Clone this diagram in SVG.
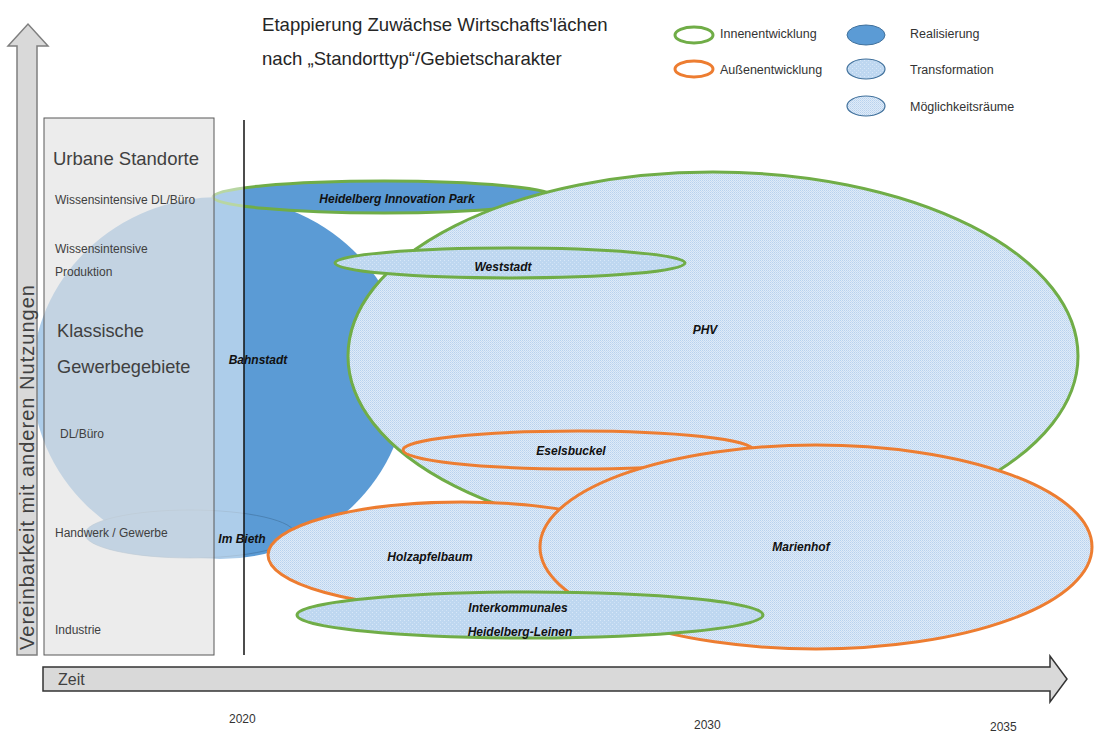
<svg xmlns="http://www.w3.org/2000/svg" width="1096" height="735" viewBox="0 0 1096 735">
<defs>
<pattern id="moeg" width="2" height="2" patternUnits="userSpaceOnUse">
<rect width="2" height="2" fill="#dfebf8"/>
<rect width="1" height="1" fill="#b8d2ee"/>
<rect x="1" y="1" width="1" height="1" fill="#c6dbf2"/>
</pattern>
<pattern id="trans" width="4" height="4" patternUnits="userSpaceOnUse">
<rect width="4" height="4" fill="#bed7f0"/>
<rect width="1" height="1" fill="#d9e8f8"/>
<rect x="2" y="2" width="1" height="1" fill="#d0e2f5"/>
</pattern>
<style>
.lbl{font-family:"Liberation Sans",Arial,sans-serif;font-size:12px;font-weight:bold;font-style:italic;fill:#111;text-anchor:middle}
.ax{font-family:"Liberation Sans",Arial,sans-serif;fill:#404040}
.leg{font-family:"Liberation Sans",Arial,sans-serif;font-size:12.5px;fill:#333}
.inn{stroke:#70ad47;stroke-width:3}
.aus{stroke:#ed7d31;stroke-width:3}
.real{fill:#5b9bd5}
.moeg{fill:url(#moeg)}
.trans{fill:url(#trans)}
</style>
</defs>

<g id="title" font-family="Liberation Sans, Arial, sans-serif" font-size="18.6" fill="#262626">
<text x="262" y="31">Etappierung Zuwächse Wirtschafts'lächen</text>
<text x="262" y="65">nach „Standorttyp“/Gebietscharakter</text>
</g>

<g id="legend">
<ellipse cx="694" cy="35" rx="19" ry="8" fill="#fff" class="inn" stroke-width="2"/>
<ellipse cx="694" cy="69" rx="19" ry="8" fill="#fff" class="aus" stroke-width="2"/>
<ellipse cx="866" cy="35" rx="19" ry="10" class="real" stroke="#41719c" stroke-width="1"/>
<ellipse cx="866" cy="69" rx="19" ry="10" class="trans" stroke="#41719c" stroke-width="1.2"/>
<ellipse cx="866" cy="106" rx="19" ry="10" class="moeg" stroke="#41719c" stroke-width="1.2"/>
<text class="leg" x="720" y="38">Innenentwicklung</text>
<text class="leg" x="720" y="74">Außenentwicklung</text>
<text class="leg" x="910" y="38">Realisierung</text>
<text class="leg" x="910" y="74">Transformation</text>
<text class="leg" x="910" y="111">Möglichkeitsräume</text>
</g>

<g id="bahnstadt">
<ellipse cx="220" cy="378" rx="188" ry="181" class="real"/>
</g>
<g id="im-bieth">
<ellipse cx="190" cy="534" rx="105" ry="24" fill="#5b9bd5" stroke="#41719c" stroke-opacity="0.6" stroke-width="1"/>
</g>
<g id="heidelberg-innovation-park">
<ellipse cx="384" cy="197" rx="171" ry="16" class="real inn"/>
</g>

<rect id="fade" x="0" y="110" width="244" height="550" fill="#fff" fill-opacity="0.5"/>

<g id="axis-box">
<rect x="44" y="118" width="170" height="537" fill="#d9d9d9" fill-opacity="0.5" stroke="#595959" stroke-width="1"/>
<text class="ax" x="53" y="165" font-size="18.5" fill="#262626">Urbane Standorte</text>
<text class="ax" x="55" y="204" font-size="12">Wissensintensive DL/Büro</text>
<text class="ax" x="55" y="253" font-size="12">Wissensintensive</text>
<text class="ax" x="55" y="276" font-size="12">Produktion</text>
<text class="ax" x="57" y="337" font-size="18.2" fill="#262626">Klassische</text>
<text class="ax" x="57" y="373" font-size="18.2" fill="#262626">Gewerbegebiete</text>
<text class="ax" x="60" y="438" font-size="12">DL/Büro</text>
<text class="ax" x="55" y="537" font-size="12">Handwerk / Gewerbe</text>
<text class="ax" x="55" y="634" font-size="12">Industrie</text>
</g>

<line id="line-2020" x1="244" y1="120" x2="244" y2="655" stroke="#111" stroke-width="1.5"/>

<g id="phv">
<ellipse cx="713" cy="356" rx="365" ry="184" class="moeg inn" stroke-width="2.5"/>
</g>
<g id="weststadt">
<ellipse cx="510" cy="263" rx="175" ry="15" class="trans inn"/>
</g>
<g id="eselsbuckel">
<ellipse cx="578" cy="450" rx="175" ry="19" class="moeg aus"/>
</g>
<g id="holzapfelbaum">
<ellipse cx="462" cy="555" rx="194" ry="53" class="moeg aus"/>
</g>
<g id="marienhof">
<ellipse cx="816" cy="547" rx="276" ry="102" class="moeg aus"/>
</g>
<g id="interkommunales">
<ellipse cx="530" cy="615" rx="233" ry="23" class="trans inn"/>
</g>

<g id="labels">
<text class="lbl" x="397" y="203">Heidelberg Innovation Park</text>
<text class="lbl" x="503" y="271">Weststadt</text>
<text class="lbl" x="705" y="334">PHV</text>
<text class="lbl" x="258" y="364">Bahnstadt</text>
<text class="lbl" x="571" y="455">Eselsbuckel</text>
<text class="lbl" x="242" y="543">Im Bieth</text>
<text class="lbl" x="430" y="561">Holzapfelbaum</text>
<text class="lbl" x="801" y="551">Marienhof</text>
<text class="lbl" x="518" y="612">Interkommunales</text>
<text class="lbl" x="520" y="636">Heidelberg-Leinen</text>
</g>

<g id="arrows">
<path d="M17,655 L17,46 L8,46 L28,24 L48,46 L37,46 L37,655 Z" fill="#d9d9d9" stroke="#7f7f7f" stroke-width="1.5"/>
<text class="ax" transform="translate(34,650) rotate(-90)" font-size="20" fill="#262626" textLength="365" lengthAdjust="spacing">Vereinbarkeit mit anderen Nutzungen</text>
<path d="M43,667 L1050,667 L1050,656 L1067,679 L1050,702 L1050,691 L43,691 Z" fill="#d9d9d9" stroke="#333" stroke-width="1.5"/>
<text class="ax" x="58" y="685" font-size="16" fill="#262626">Zeit</text>
</g>

<g id="years" font-family="Liberation Sans, Arial, sans-serif" font-size="12" fill="#333">
<text x="229" y="723">2020</text>
<text x="694" y="729">2030</text>
<text x="990" y="731">2035</text>
</g>
</svg>
